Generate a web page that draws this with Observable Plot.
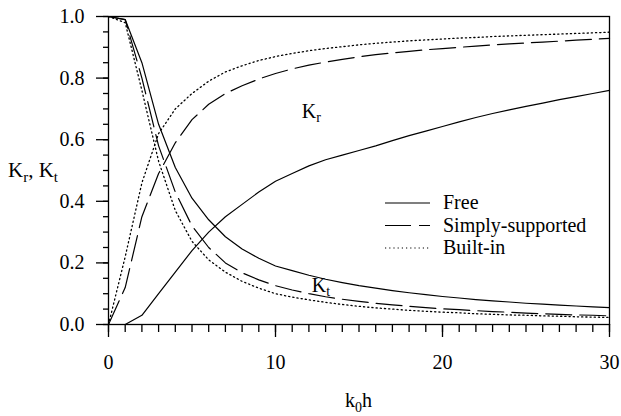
<!DOCTYPE html>
<html><head><meta charset="utf-8">
<script src="https://cdn.jsdelivr.net/npm/d3@7"></script>
<script src="https://cdn.jsdelivr.net/npm/@observablehq/plot@0.6"></script>
<style>html,body{margin:0;padding:0;background:#fff}svg{display:block}</style>
</head><body><div id="chart"></div>
<script>
// k0h sample points
const k0h = [0,1,2,3,4,5,6,7,8,9,10,11,12,13,14,15,16,17,18,19,20,21,22,23,24,25,26,27,28,29,30];
// Reflection coefficient Kr
const krFree   = [0,0,0.03,0.10,0.17,0.24,0.30,0.35,0.39,0.43,0.465,0.49,0.515,0.535,0.55,0.565,0.58,0.597,0.613,0.628,0.643,0.658,0.672,0.685,0.697,0.708,0.719,0.73,0.74,0.75,0.76];
const krSimply = [0,0.12,0.35,0.49,0.59,0.665,0.715,0.75,0.775,0.797,0.815,0.83,0.842,0.852,0.861,0.869,0.876,0.882,0.887,0.892,0.896,0.90,0.904,0.908,0.911,0.914,0.917,0.92,0.923,0.926,0.929];
const krBuilt  = [0,0.22,0.46,0.62,0.70,0.75,0.79,0.82,0.84,0.857,0.87,0.88,0.889,0.896,0.902,0.908,0.913,0.917,0.921,0.924,0.927,0.93,0.932,0.935,0.937,0.939,0.941,0.943,0.945,0.947,0.949];
// Transmission coefficient Kt
const ktFree   = [1.0,0.99,0.85,0.65,0.51,0.41,0.34,0.285,0.245,0.215,0.19,0.175,0.16,0.147,0.136,0.126,0.118,0.11,0.103,0.097,0.091,0.086,0.081,0.077,0.073,0.069,0.066,0.063,0.06,0.057,0.055];
const ktSimply = [1.0,0.99,0.80,0.58,0.43,0.32,0.25,0.20,0.168,0.145,0.126,0.112,0.10,0.09,0.082,0.075,0.069,0.064,0.059,0.055,0.051,0.048,0.045,0.042,0.04,0.037,0.035,0.033,0.031,0.03,0.028];
const ktBuilt  = [1.0,0.98,0.76,0.53,0.37,0.27,0.21,0.17,0.14,0.118,0.10,0.089,0.08,0.072,0.065,0.059,0.054,0.05,0.046,0.043,0.04,0.038,0.035,0.033,0.031,0.03,0.028,0.027,0.025,0.024,0.023];

const seriesNames = ["Free","Simply-supported","Built-in"];
const xMajorTicks = [0,10,20,30];
const xMinorTicks = d3.range(0,31,1);
const yMajorTicks = [0,0.2,0.4,0.6,0.8,1.0];
const yMinorTicks = d3.range(0,21).map(i => i/20);
const curveLabels = [{base:"K", sub:"r", x:11.6, y:0.69},{base:"K", sub:"t", x:12.2, y:0.125}];

const dashes = {"Free": null, "Simply-supported": "26,8", "Built-in": "1.2,3"};
const krAll = {"Free": krFree, "Simply-supported": krSimply, "Built-in": krBuilt};
const ktAll = {"Free": ktFree, "Simply-supported": ktSimply, "Built-in": ktBuilt};

const rows = [];
for (const s of seriesNames) {
  k0h.forEach((x,i) => rows.push({series:s, curve:"Kr", x, y:krAll[s][i]}));
  k0h.forEach((x,i) => rows.push({series:s, curve:"Kt", x, y:ktAll[s][i]}));
}

const lineMarks = seriesNames.map(s => Plot.line(rows.filter(d => d.series === s), {
  x:"x", y:"y", z:"curve", stroke:"black", strokeWidth: s === "Built-in" ? 1.3 : 1.2,
  strokeDasharray: dashes[s] || undefined, curve:"linear"
}));

const font = "'Liberation Serif', 'Times New Roman', serif";
const plot = Plot.plot({
  width:621, height:416,
  marginLeft:108, marginRight:12, marginTop:16, marginBottom:92,
  x:{domain:[0,30]}, y:{domain:[0,1]},
  style:{fontFamily:font, fontSize:"20px", color:"black", background:"white"},
  marks:[
    Plot.axisX({ticks:xMinorTicks, tickSize:8, tickFormat:()=>"", label:null, strokeWidth:1.3}),
    Plot.axisX({ticks:xMajorTicks, tickSize:13, tickPadding:17, tickFormat:d3.format("d"), label:null, strokeWidth:1.3, fontSize:20}),
    Plot.axisY({ticks:yMinorTicks, tickSize:5, tickFormat:()=>"", label:null, strokeWidth:1.3}),
    Plot.axisY({ticks:yMajorTicks, tickSize:12, tickPadding:12, tickFormat:d3.format(".1f"), label:null, strokeWidth:1.3, fontSize:20}),
    ...lineMarks,
    Plot.frame({stroke:"black", strokeWidth:1.3})
  ]
});

const svg = d3.select(plot);
const sx = plot.scale("x"), sy = plot.scale("y");

function newText(x, y, size, anchor) {
  return svg.append("text").attr("x", x).attr("y", y).attr("font-family", font)
    .attr("font-size", size).attr("fill", "black").attr("text-anchor", anchor);
}
// curve labels
for (const L of curveLabels) {
  const t = newText(sx.apply(L.x), sy.apply(L.y), 20, "start").attr("dy", "0.32em");
  t.append("tspan").text(L.base);
  t.append("tspan").attr("font-size", 14).attr("dy", "0.3em").text(L.sub);
}
// y-axis title
{
  const t = newText(8, 177, 21, "start");
  t.append("tspan").text("K");
  t.append("tspan").attr("font-size", 15).attr("dy", 5).text("r");
  t.append("tspan").attr("dy", -5).text(", K");
  t.append("tspan").attr("font-size", 15).attr("dy", 5).text("t");
}
// x-axis title
{
  const t = newText((sx.range[0]+sx.range[1])/2, 407, 20, "middle");
  t.append("tspan").text("k");
  t.append("tspan").attr("font-size", 14).attr("dy", 5).text("0");
  t.append("tspan").attr("dy", -5).text("h");
}
// legend
const leg = svg.append("g");
seriesNames.forEach((s, i) => {
  const yy = 203 + i*22.5;
  leg.append("line").attr("x1", 385).attr("x2", 430).attr("y1", yy).attr("y2", yy)
    .attr("stroke", "black").attr("stroke-width", 1.2)
    .attr("stroke-dasharray", dashes[s] || null);
  leg.append("text").attr("x", 443).attr("y", yy).attr("dy", "0.32em")
    .attr("text-anchor", "start")
    .attr("font-family", font).attr("font-size", 20).attr("fill", "black").text(s);
});

document.getElementById("chart").appendChild(plot);
</script>
</body></html>
